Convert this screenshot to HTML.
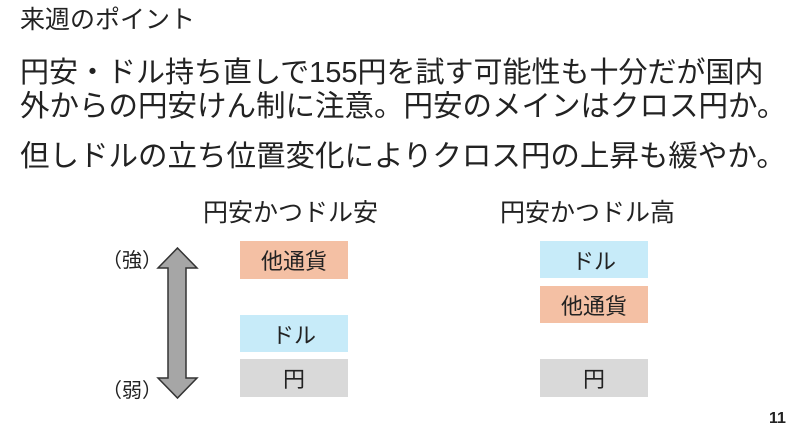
<!DOCTYPE html>
<html><head><meta charset="utf-8"><style>
body{margin:0;width:800px;height:435px;background:#fff;position:relative;overflow:hidden;font-family:"Liberation Sans","Noto Sans CJK JP",sans-serif;color:#222}
.t{position:absolute;white-space:nowrap;line-height:1}
.b{position:absolute;width:108px;display:flex;align-items:center;justify-content:center;font-size:22px}
</style></head><body>
<div class="t" style="left:20px;top:8px;font-size:25px">来週のポイント</div>
<div class="t" style="left:20px;top:59px;font-size:29px">円安・ドル持ち直しで155円を試す可能性も十分だが国内</div>
<div class="t" style="left:20px;top:92px;font-size:29.5px">外からの円安けん制に注意。円安のメインはクロス円か。</div>
<div class="t" style="left:20px;top:142px;font-size:29.5px">但しドルの立ち位置変化によりクロス円の上昇も緩やか。</div>
<div class="t" style="left:203px;top:201px;font-size:25px">円安かつドル安</div>
<div class="t" style="left:500px;top:201px;font-size:25px">円安かつドル高</div>
<div class="t" style="left:102px;top:251px;font-size:20px">（強）</div>
<div class="t" style="left:102px;top:381px;font-size:20px">（弱）</div>
<svg style="position:absolute;left:0;top:0" width="800" height="435">
<polygon points="177.5,248 197,268 186,268 186,378 197,378 177.5,398 158,378 168,378 168,268 158,268" fill="#a6a6a6" stroke="#333" stroke-width="1.5"/>
</svg>
<div class="b" style="left:240px;top:241px;height:38px;background:#f4c0a4">他通貨</div>
<div class="b" style="left:240px;top:315px;height:37px;background:#c7ebf9">ドル</div>
<div class="b" style="left:240px;top:359px;height:38px;background:#d9d9d9">円</div>
<div class="b" style="left:540px;top:241px;height:37px;background:#c7ebf9">ドル</div>
<div class="b" style="left:540px;top:286px;height:37px;background:#f4c0a4">他通貨</div>
<div class="b" style="left:540px;top:359px;height:38px;background:#d9d9d9">円</div>
<div class="t" style="left:769px;top:411px;font-size:16px;font-weight:bold">11</div>
</body></html>
